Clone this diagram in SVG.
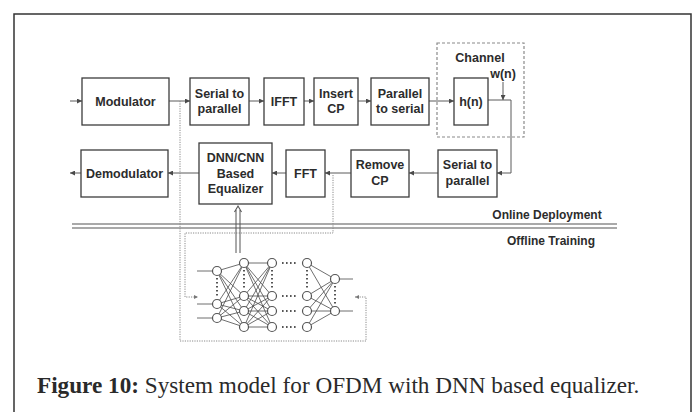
<svg xmlns="http://www.w3.org/2000/svg" width="697" height="412" viewBox="0 0 697 412">
  <defs>
    <style>
      .box { fill: #fff; stroke: #3c3c3c; stroke-width: 1.3; }
      .lbl { font-family: "Liberation Sans", Arial, sans-serif; font-weight: bold; font-size: 12.5px; fill: #2c2c2c; text-anchor: middle; }
      .sec { font-family: "Liberation Sans", Arial, sans-serif; font-weight: bold; font-size: 12px; fill: #2c2c2c; text-anchor: middle; }
      .wire { fill: none; stroke: #5a5a5a; stroke-width: 1; }
      .dot { fill: none; stroke: #8a8a8a; stroke-width: 1; stroke-dasharray: 1.2 1.2; }
      .dash { fill: none; stroke: #8a8a8a; stroke-width: 1.2; stroke-dasharray: 3 2; }
      .edge { stroke: #4a4a4a; stroke-width: 0.8; }
      .neuron { fill: #fff; stroke: #555; stroke-width: 1.2; }
      .vdots { stroke: #555; stroke-width: 2; stroke-dasharray: 1.6 2.4; fill: none; }
      .cap { font-family: "Liberation Serif", "Times New Roman", serif; font-size: 23.2px; fill: #2a2a2a; }
    </style>
    <marker id="arr" viewBox="0 0 6 6" refX="6" refY="3" markerWidth="5" markerHeight="5" orient="auto" markerUnits="userSpaceOnUse">
      <path d="M0,0 L6,3 L0,6 z" fill="#4a4a4a"/>
    </marker>
    <marker id="arrDot" viewBox="0 0 6 6" refX="6" refY="3" markerWidth="4" markerHeight="4" orient="auto" markerUnits="userSpaceOnUse">
      <path d="M0,0 L6,3 L0,6 z" fill="#777"/>
    </marker>
  </defs>

  <rect width="697" height="412" fill="#fff"/>
  <!-- outer frame (open at the bottom) -->
  <path d="M14,412 V14 H691 V412" fill="none" stroke="#333" stroke-width="1.5"/>

  <!-- connectors -->
  <g id="connectors">
    <line class="wire" x1="70" y1="101" x2="82" y2="101" marker-end="url(#arr)"/>
    <line class="wire" x1="169" y1="101" x2="190" y2="101" marker-end="url(#arr)"/>
    <line class="wire" x1="249" y1="101" x2="264" y2="101" marker-end="url(#arr)"/>
    <line class="wire" x1="304" y1="101" x2="314" y2="101" marker-end="url(#arr)"/>
    <line class="wire" x1="358" y1="101" x2="371" y2="101" marker-end="url(#arr)"/>
    <line class="wire" x1="429" y1="101" x2="454" y2="101" marker-end="url(#arr)"/>
    <!-- channel output plus noise, down to the receiver -->
    <polyline class="wire" points="488,100 511,100 511,173 497,173" marker-end="url(#arr)"/>
    <line class="wire" x1="503" y1="82" x2="503" y2="100" marker-end="url(#arr)"/>
    <line class="wire" x1="438" y1="173" x2="409" y2="173" marker-end="url(#arr)"/>
    <line class="wire" x1="351" y1="173" x2="325" y2="173" marker-end="url(#arr)"/>
    <line class="wire" x1="286" y1="173" x2="272" y2="173" marker-end="url(#arr)"/>
    <line class="wire" x1="199" y1="173" x2="168" y2="173" marker-end="url(#arr)"/>
    <line class="wire" x1="81" y1="173" x2="70" y2="173" marker-end="url(#arr)"/>

    <!-- online / offline separator -->
    <line x1="72" y1="224" x2="617" y2="224" stroke="#8c8c8c" stroke-width="1.4"/>
    <line x1="72" y1="228" x2="617" y2="228" stroke="#8c8c8c" stroke-width="1.4"/>

    <!-- training data paths -->
    <polyline class="dot" points="180,101 180,341 366,341 366,297 355,297" marker-end="url(#arrDot)"/>
    <polyline class="dot" points="333,175 333,233 185,233 185,297 198,297" marker-end="url(#arrDot)"/>

    <!-- trained weights to equalizer -->
    <line x1="236" y1="253" x2="236" y2="210" stroke="#555" stroke-width="1"/>
    <line x1="240" y1="253" x2="240" y2="210" stroke="#555" stroke-width="1"/>
    <polyline points="234.5,212 238,206 241.5,212" fill="none" stroke="#555" stroke-width="1.1"/>
  </g>

  <!-- transmitter chain -->
  <g id="modulator"><rect class="box" x="82" y="78" width="87" height="47"/><text class="lbl" x="125.5" y="106">Modulator</text></g>
  <g id="serial-to-parallel-tx"><rect class="box" x="190" y="78" width="59" height="47"/><text class="lbl" x="219.5" y="98">Serial to</text><text class="lbl" x="219.5" y="113">parallel</text></g>
  <g id="ifft"><rect class="box" x="264" y="78" width="40" height="47"/><text class="lbl" x="284" y="106">IFFT</text></g>
  <g id="insert-cp"><rect class="box" x="314" y="78" width="44" height="47"/><text class="lbl" x="336" y="98">Insert</text><text class="lbl" x="336" y="113">CP</text></g>
  <g id="parallel-to-serial"><rect class="box" x="371" y="78" width="58" height="47"/><text class="lbl" x="400" y="98">Parallel</text><text class="lbl" x="400" y="113">to serial</text></g>

  <!-- channel -->
  <g id="channel">
    <rect class="dash" x="437" y="43" width="87" height="94"/>
    <text class="lbl" x="480" y="62">Channel</text>
    <text class="lbl" x="503" y="78">w(n)</text>
  </g>
  <g id="h-n"><rect class="box" x="454" y="78" width="34" height="47"/><text class="lbl" x="471" y="106">h(n)</text></g>

  <!-- receiver chain -->
  <g id="serial-to-parallel-rx"><rect class="box" x="438" y="150" width="59" height="47"/><text class="lbl" x="467.5" y="169">Serial to</text><text class="lbl" x="467.5" y="185">parallel</text></g>
  <g id="remove-cp"><rect class="box" x="351" y="150" width="58" height="47"/><text class="lbl" x="380" y="169">Remove</text><text class="lbl" x="380" y="185">CP</text></g>
  <g id="fft"><rect class="box" x="286" y="150" width="39" height="47"/><text class="lbl" x="305.5" y="178">FFT</text></g>
  <g id="equalizer"><rect class="box" x="199" y="143" width="73" height="61"/><text class="lbl" x="235.5" y="162">DNN/CNN</text><text class="lbl" x="235.5" y="178">Based</text><text class="lbl" x="235.5" y="193">Equalizer</text></g>
  <g id="demodulator"><rect class="box" x="81" y="150" width="87" height="47"/><text class="lbl" x="124.5" y="178">Demodulator</text></g>

  <g id="section-labels">
    <text class="sec" x="547" y="219">Online Deployment</text>
    <text class="sec" x="551" y="245">Offline Training</text>
  </g>

  <!-- neural network used for offline training -->
  <g id="neural-network">
    <g class="edge">
      <!-- input stubs -->
      <line x1="197" y1="271" x2="213" y2="271"/>
      <line x1="197" y1="304" x2="213" y2="304"/>
      <line x1="197" y1="318" x2="213" y2="318"/>
      <!-- layer 1 to layer 2 -->
      <line x1="217" y1="271" x2="244" y2="263"/><line x1="217" y1="271" x2="244" y2="296"/><line x1="217" y1="271" x2="244" y2="311"/><line x1="217" y1="271" x2="244" y2="327"/>
      <line x1="217" y1="304" x2="244" y2="263"/><line x1="217" y1="304" x2="244" y2="296"/><line x1="217" y1="304" x2="244" y2="311"/><line x1="217" y1="304" x2="244" y2="327"/>
      <line x1="217" y1="318" x2="244" y2="263"/><line x1="217" y1="318" x2="244" y2="296"/><line x1="217" y1="318" x2="244" y2="311"/><line x1="217" y1="318" x2="244" y2="327"/>
      <!-- layer 2 to layer 3 -->
      <line x1="244" y1="263" x2="272" y2="263"/><line x1="244" y1="263" x2="272" y2="296"/><line x1="244" y1="263" x2="272" y2="311"/><line x1="244" y1="263" x2="272" y2="327"/>
      <line x1="244" y1="296" x2="272" y2="263"/><line x1="244" y1="296" x2="272" y2="296"/><line x1="244" y1="296" x2="272" y2="311"/><line x1="244" y1="296" x2="272" y2="327"/>
      <line x1="244" y1="311" x2="272" y2="263"/><line x1="244" y1="311" x2="272" y2="296"/><line x1="244" y1="311" x2="272" y2="311"/><line x1="244" y1="311" x2="272" y2="327"/>
      <line x1="244" y1="327" x2="272" y2="263"/><line x1="244" y1="327" x2="272" y2="296"/><line x1="244" y1="327" x2="272" y2="311"/><line x1="244" y1="327" x2="272" y2="327"/>
      <!-- last hidden layer to output -->
      <line x1="307" y1="263" x2="335" y2="279"/><line x1="307" y1="263" x2="335" y2="311"/>
      <line x1="307" y1="296" x2="335" y2="279"/><line x1="307" y1="296" x2="335" y2="311"/>
      <line x1="307" y1="311" x2="335" y2="279"/><line x1="307" y1="311" x2="335" y2="311"/>
      <line x1="307" y1="327" x2="335" y2="279"/><line x1="307" y1="327" x2="335" y2="311"/>
      <!-- output stubs -->
      <line x1="339" y1="279" x2="353" y2="279"/>
      <line x1="339" y1="311" x2="353" y2="311"/>
    </g>
    <!-- elided neurons -->
    <line class="vdots" x1="217" y1="278" x2="217" y2="298"/>
    <line class="vdots" x1="244" y1="270" x2="244" y2="290"/>
    <line class="vdots" x1="272" y1="270" x2="272" y2="290"/>
    <line class="vdots" x1="307" y1="270" x2="307" y2="290"/>
    <line class="vdots" x1="335" y1="286" x2="335" y2="305"/>
    <line class="vdots" x1="282" y1="263" x2="296" y2="263"/>
    <line class="vdots" x1="282" y1="296" x2="296" y2="296"/>
    <line class="vdots" x1="282" y1="311" x2="296" y2="311"/>
    <line class="vdots" x1="282" y1="327" x2="296" y2="327"/>
    <!-- neurons -->
    <circle class="neuron" cx="217" cy="271" r="4.5"/>
    <circle class="neuron" cx="217" cy="304" r="4.5"/>
    <circle class="neuron" cx="217" cy="318" r="4.5"/>
    <circle class="neuron" cx="244" cy="263" r="4.5"/>
    <circle class="neuron" cx="244" cy="296" r="4.5"/>
    <circle class="neuron" cx="244" cy="311" r="4.5"/>
    <circle class="neuron" cx="244" cy="327" r="4.5"/>
    <circle class="neuron" cx="272" cy="263" r="4.5"/>
    <circle class="neuron" cx="272" cy="296" r="4.5"/>
    <circle class="neuron" cx="272" cy="311" r="4.5"/>
    <circle class="neuron" cx="272" cy="327" r="4.5"/>
    <circle class="neuron" cx="307" cy="263" r="4.5"/>
    <circle class="neuron" cx="307" cy="296" r="4.5"/>
    <circle class="neuron" cx="307" cy="311" r="4.5"/>
    <circle class="neuron" cx="307" cy="327" r="4.5"/>
    <circle class="neuron" cx="335" cy="279" r="4.5"/>
    <circle class="neuron" cx="335" cy="311" r="4.5"/>
  </g>

  <!-- caption -->
  <text class="cap" x="37" y="393"><tspan font-weight="bold">Figure 10:</tspan> System model for OFDM with DNN based equalizer.</text>
</svg>
